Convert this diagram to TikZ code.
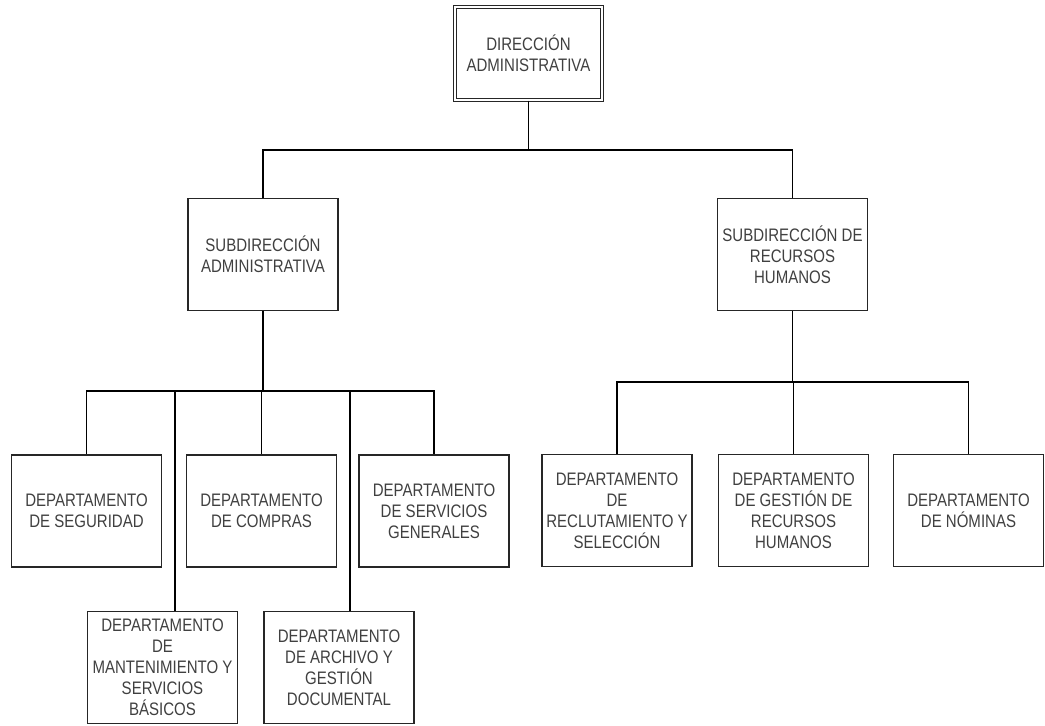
\documentclass[tikz,border=0pt]{standalone}
\usepackage{fontspec}
\setmainfont{Liberation Sans}[FakeStretch=0.83]
\usetikzlibrary{positioning}

\begin{document}
\begin{tikzpicture}[x=0.02cm, y=-0.02cm,
	unit/.style={shape=rectangle, draw=black!85, line width=0.85pt, fill=white, align=center, text=black!75, font=\fontsize{10.3pt}{11.95pt}\selectfont, inner sep=1pt, minimum width=3.0cm, minimum height=2.24cm},
	head/.style={unit, double, double distance=1.1pt, line width=0.6pt, minimum width=2.94cm, minimum height=1.86cm},
	link/.style={draw=black, line width=0.6pt}]
\useasboundingbox (0,0) rectangle (1045,725);
\node[head] (dir) at (528.5,53.5) {DIRECCIÓN\\ADMINISTRATIVA};
\node[unit] (sub adm) at (263,254.5) {SUBDIRECCIÓN\\ADMINISTRATIVA};
\node[unit] (sub rh) at (792.5,254.5) {SUBDIRECCIÓN DE\\RECURSOS\\HUMANOS};
\foreach \d/\x/\y/\txt in {seg/86.5/511/{DEPARTAMENTO\\DE SEGURIDAD}, com/261.5/511/{DEPARTAMENTO\\DE COMPRAS}, ser/434/511/{DEPARTAMENTO\\DE SERVICIOS\\GENERALES}, man/162.5/667.5/{DEPARTAMENTO\\DE\\MANTENIMIENTO Y\\SERVICIOS\\BÁSICOS}, arc/339/667.5/{DEPARTAMENTO\\DE ARCHIVO Y\\GESTIÓN\\DOCUMENTAL}, rec/617/510.5/{DEPARTAMENTO\\DE\\RECLUTAMIENTO Y\\SELECCIÓN}, ges/793.5/510.5/{DEPARTAMENTO\\DE GESTIÓN DE\\RECURSOS\\HUMANOS}, nom/968.5/510.5/{DEPARTAMENTO\\DE NÓMINAS}} {
	\node[unit] (dep \d) at (\x,\y) {\txt};
}
\coordinate (bus top) at (528.5,150);
\draw[link] (dir.south) -- (bus top) -| (sub adm.north);
\draw[link] (bus top) -| (sub rh.north);
\coordinate (bus adm) at (263,391);
\draw[link] (sub adm.south) -- (bus adm);
\foreach \d in {seg, com, ser} {
	\draw[link] (bus adm) -| (dep \d.north);
}
\foreach \d/\x in {man/175, arc/350} {
	\coordinate (drop \d) at (\x,391);
	\draw[link] (bus adm) -- (drop \d) -- (dep \d.north -| drop \d);
}
\coordinate (bus rh) at (792.5,382);
\draw[link] (sub rh.south) -- (bus rh);
\foreach \d in {rec, ges, nom} {
	\draw[link] (bus rh) -| (dep \d.north);
}
\end{tikzpicture}
\end{document}
